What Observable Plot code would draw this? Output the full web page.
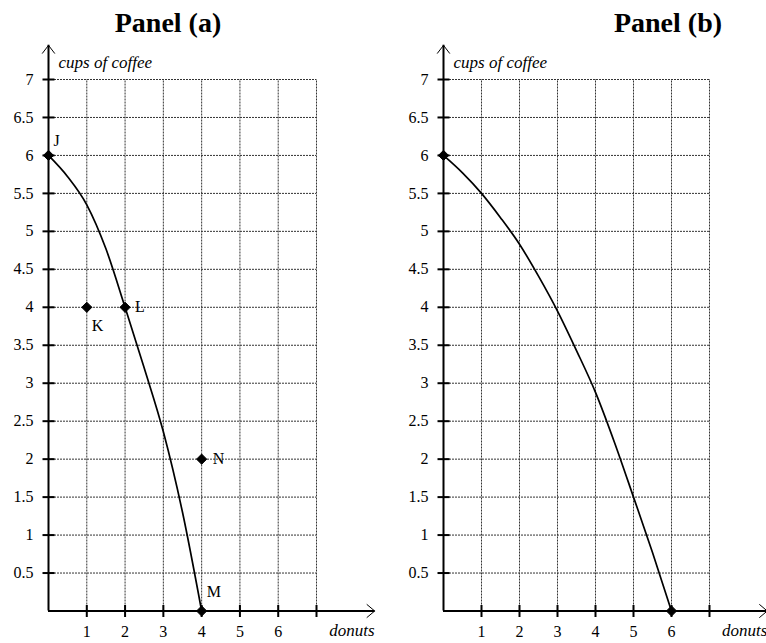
<!DOCTYPE html>
<html>
<head>
<meta charset="utf-8">
<script src="https://cdn.jsdelivr.net/npm/d3@7"></script>
<script src="https://cdn.jsdelivr.net/npm/@observablehq/plot@0.6"></script>
<style>
  body { margin: 0; background: #fff; }
  #wrap { position: relative; width: 766px; height: 643px; overflow: hidden; }
  #head { position: relative; height: 40px; }
  .title { position: absolute; top: 9px; transform: translateX(-50%); font: bold 28px "Liberation Serif", "Times New Roman", serif; line-height: 1; white-space: nowrap; }
  #charts { display: flex; }
</style>
</head>
<body>
<div id="wrap">
  <div id="head">
    <div class="title" style="left:168px">Panel (a)</div>
    <div class="title" style="left:668px">Panel (b)</div>
  </div>
  <div id="charts"></div>
</div>
<script>
// ---- data ----
const xGrid = [1, 2, 3, 4, 5, 6, 7];
const yGrid = [0.5, 1, 1.5, 2, 2.5, 3, 3.5, 4, 4.5, 5, 5.5, 6, 6.5, 7];
const xTickLabels = ["1", "2", "3", "4", "5", "6"];
const xTickValues = [1, 2, 3, 4, 5, 6];
const yTickLabels = ["0.5", "1", "1.5", "2", "2.5", "3", "3.5", "4", "4.5", "5", "5.5", "6", "6.5", "7"];
const xAxisEnd = 8.52;
const yAxisEnd = 7.45;
const xTitle = "donuts";
const yTitle = "cups of coffee";

// Panel (a) frontier
const curveAx = [0, 0.5, 1, 1.5, 2, 2.5, 3, 3.5, 4];
const curveAy = [6, 5.72, 5.35, 4.77, 4, 3.2, 2.36, 1.3, 0];
// Panel (a) labelled points
const pointLabelsA = ["J", "K", "L", "M", "N"];
const pointXA = [0, 1, 2, 4, 4];
const pointYA = [6, 4, 4, 0, 2];

// Panel (b) frontier
const curveBx = [0, 0.5, 1, 1.5, 2, 2.5, 3, 3.5, 4, 4.5, 5, 5.5, 6];
const curveBy = [6, 5.77, 5.5, 5.18, 4.83, 4.41, 3.95, 3.43, 2.88, 2.22, 1.5, 0.77, 0];
const pointXB = [0, 6];
const pointYB = [6, 0];

// ---- build ----
const toRows = (xs, ys, labels) => xs.map((x, i) => ({x, y: ys[i], label: labels ? labels[i] : ""}));
const xTickRows = xTickValues.map((v, i) => ({v, label: xTickLabels[i]}));
const yTickRows = yGrid.map((v, i) => ({v, label: yTickLabels[i]}));

const hTick = {draw(ctx, size) { const l = Math.sqrt(size / Math.PI); ctx.moveTo(-l, 0); ctx.lineTo(l, 0); }};
const vTick = {draw(ctx, size) { const l = Math.sqrt(size / Math.PI); ctx.moveTo(0, -l); ctx.lineTo(0, l); }};

const labelOffsets = {J: [5, -15], K: [5, 19], L: [10, 0], M: [5, -19], N: [11, 0]};

function panel({curve, points, marginLeft, marginRight, showLabels}) {
  const marks = [
    Plot.ruleX(xGrid, {x: d => d, y1: 0, y2: 7, stroke: "#333", strokeWidth: 1, strokeDasharray: "2,1"}),
    Plot.ruleY(yGrid, {y: d => d, x1: 0, x2: 7, stroke: "#333", strokeWidth: 1, strokeDasharray: "2,1"}),
    Plot.ruleY([0], {y: 0, x1: 0, x2: xAxisEnd, stroke: "#000", strokeWidth: 2}),
    Plot.ruleX([0], {x: 0, y1: 0, y2: yAxisEnd, stroke: "#000", strokeWidth: 2}),
    Plot.arrow([0], {x1: 0, y1: 0, x2: xAxisEnd, y2: 0, stroke: "#000", strokeWidth: 1, headLength: 15, headAngle: 80}),
    Plot.arrow([0], {x1: 0, y1: 0, x2: 0, y2: yAxisEnd, stroke: "#000", strokeWidth: 1, headLength: 15, headAngle: 75}),
    Plot.dot(xGrid, {x: d => d, y: 0, symbol: vTick, r: 6, fill: "none", stroke: "#000", strokeWidth: 2}),
    Plot.dot(yGrid, {x: 0, y: d => d, symbol: hTick, r: 6, fill: "none", stroke: "#000", strokeWidth: 2}),
    Plot.text(xTickRows, {x: "v", y: 0, text: "label", dy: 21, fontSize: 16, fill: "#000"}),
    Plot.text(yTickRows, {x: 0, y: "v", text: "label", dx: -15, textAnchor: "end", fontSize: 16, fill: "#000"}),
    Plot.text([xTitle], {x: xAxisEnd, y: 0, text: d => d, dy: 20, textAnchor: "end", fontSize: 17, fontStyle: "italic", fill: "#000"}),
    Plot.text([yTitle], {x: 0, y: yAxisEnd, text: d => d, dx: 10, dy: 17, textAnchor: "start", fontSize: 17, fontStyle: "italic", fill: "#000"}),
    Plot.line(curve, {x: "x", y: "y", curve: "monotone-x", stroke: "#000", strokeWidth: 1.7}),
    Plot.dot(points, {x: "x", y: "y", symbol: "diamond2", r: 4.6, fill: "#000", stroke: "#000", strokeWidth: 1})
  ];
  if (showLabels) {
    for (const [lab, [dx, dy]] of Object.entries(labelOffsets)) {
      marks.push(Plot.text(points, {filter: d => d.label === lab, x: "x", y: "y", text: "label", dx, dy, textAnchor: "start", fontSize: 16, fill: "#000"}));
    }
  }
  return Plot.plot({
    width: 383, height: 603,
    marginTop: 39, marginBottom: 32.5, marginLeft, marginRight,
    x: {domain: [0, 7], axis: null},
    y: {domain: [0, 7], axis: null},
    style: {fontFamily: "'Liberation Serif', 'Times New Roman', serif", background: "#fff", overflow: "visible"},
    marks
  });
}

const charts = document.getElementById("charts");
charts.append(panel({curve: toRows(curveAx, curveAy), points: toRows(pointXA, pointYA, pointLabelsA), marginLeft: 48, marginRight: 67, showLabels: true}));
charts.append(panel({curve: toRows(curveBx, curveBy), points: toRows(pointXB, pointYB), marginLeft: 60, marginRight: 57, showLabels: false}));
</script>
</body>
</html>
